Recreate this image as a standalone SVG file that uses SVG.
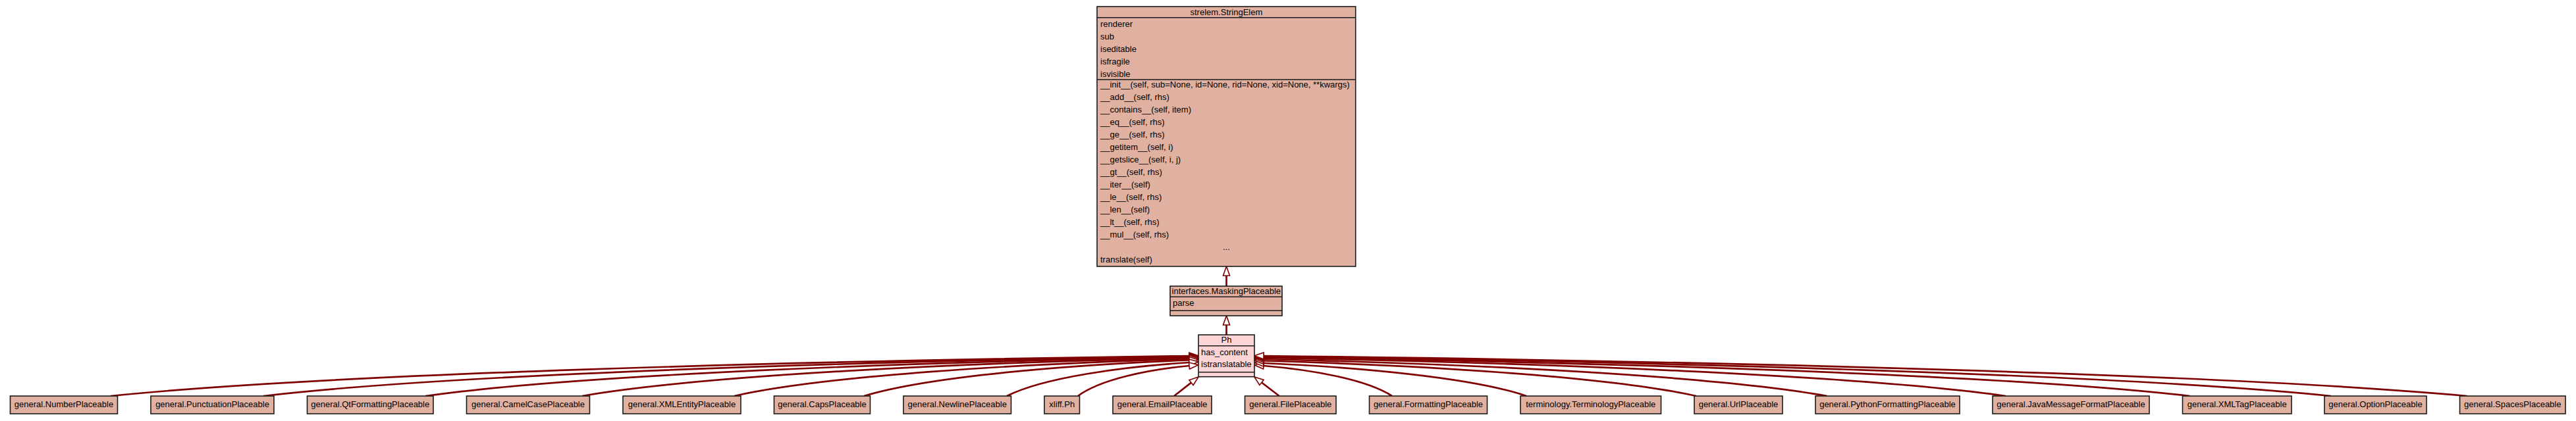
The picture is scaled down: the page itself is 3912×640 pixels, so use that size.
<svg xmlns="http://www.w3.org/2000/svg" width="3912" height="640" viewBox="0 0 3912 640">
<defs>
<style>
text{font-family:"Liberation Sans",Arial,Helvetica,sans-serif;font-size:13px;fill:#000}
.c{text-anchor:middle}
.box{fill:#e0b0a0;stroke:#1a1a1a;stroke-width:1.6}
.ph{fill:#ffd4d4;stroke:#1a1a1a;stroke-width:1.6}
.sep{stroke:#1a1a1a;stroke-width:1.6}
.e{fill:none;stroke:#800000;stroke-width:2.7;marker-end:url(#tri)}
</style>
<marker id="tri" markerUnits="userSpaceOnUse" markerWidth="16" markerHeight="12" refX="0" refY="5" orient="auto" overflow="visible">
<path d="M0,0 L14,5 L0,10 Z" fill="#fff" stroke="#800000" stroke-width="1.6"/>
</marker>
</defs>
<rect width="3912" height="640" fill="#fff"/>

<g id="edges">
<path class="e" d="M1862.5,435 L1862.5,419"/>
<path class="e" d="M1862.5,509 L1862.5,494"/>
<path class="e" d="M168,602 C495.6,568.45 1199.9,548.93 1806,541"/>
<path class="e" d="M400,602 C681.2,569 1285.8,549.8 1806,542"/>
<path class="e" d="M646,602 C878,569.55 1376.8,550.67 1806,543"/>
<path class="e" d="M884,602 C1068.4,570.1 1464.9,551.54 1806,544"/>
<path class="e" d="M1115,602 C1253.2,570.9 1550.3,552.85 1806,545.5"/>
<path class="e" d="M1312,602 C1410.8,572 1623.2,554.6 1806,547.5"/>
<path class="e" d="M1529,602 C1584.4,573.95 1703.5,557.6 1806,551"/>
<path class="e" d="M1637,602 C1670.8,576.7 1743.5,562 1806,556"/>
<path class="e" d="M1783,602 L1809,581.6"/>
<path class="e" d="M1942.7,602 L1916,581.5"/>
<path class="e" d="M2114,602 C2075,576.7 1991.15,562 1919,556"/>
<path class="e" d="M2318,602 C2238.2,574.5 2066.6,558.5 1919,552"/>
<path class="e" d="M2576,602 C2444.6,572.6 2162.1,555.46 1919,548.5"/>
<path class="e" d="M2774.7,602 C2603.6,571.2 2235.6,553.28 1919,546"/>
<path class="e" d="M3046,602 C2820.6,570.1 2336,551.54 1919,544"/>
<path class="e" d="M3325.7,602 C3044.4,569.55 2439.5,550.67 1919,543"/>
<path class="e" d="M3540,602 C3215.8,569 2518.8,549.8 1919,542"/>
<path class="e" d="M3746.5,602 C3381,568.45 2595.2,548.93 1919,541"/>
</g>

<g id="strelem.StringElem">
<rect class="box" x="1666" y="10" width="392.7" height="395"/>
<line class="sep" x1="1666" y1="26.7" x2="2058.7" y2="26.7"/>
<line class="sep" x1="1666" y1="121" x2="2058.7" y2="121"/>
<text class="c" x="1862.4" y="23">strelem.StringElem</text>
<text x="1671" y="40.5">renderer</text>
<text x="1671" y="59.5">sub</text>
<text x="1671" y="78.5">iseditable</text>
<text x="1671" y="97.5">isfragile</text>
<text x="1671" y="116.5">isvisible</text>
<text x="1671" y="133.2">__init__(self, sub=None, id=None, rid=None, xid=None, **kwargs)</text>
<text x="1671" y="152.2">__add__(self, rhs)</text>
<text x="1671" y="171.2">__contains__(self, item)</text>
<text x="1671" y="190.2">__eq__(self, rhs)</text>
<text x="1671" y="209.2">__ge__(self, rhs)</text>
<text x="1671" y="228.2">__getitem__(self, i)</text>
<text x="1671" y="247.2">__getslice__(self, i, j)</text>
<text x="1671" y="266.2">__gt__(self, rhs)</text>
<text x="1671" y="285.2">__iter__(self)</text>
<text x="1671" y="304.2">__le__(self, rhs)</text>
<text x="1671" y="323.2">__len__(self)</text>
<text x="1671" y="342.2">__lt__(self, rhs)</text>
<text x="1671" y="361.2">__mul__(self, rhs)</text>
<text class="c" x="1862.4" y="379.5">...</text>
<text x="1671" y="398.7">translate(self)</text>
</g>

<g id="interfaces.MaskingPlaceable">
<rect class="box" x="1777" y="435" width="170" height="45"/>
<line class="sep" x1="1777" y1="451.3" x2="1947" y2="451.3"/>
<line class="sep" x1="1777" y1="472.3" x2="1947" y2="472.3"/>
<text class="c" x="1862.3" y="446.5">interfaces.MaskingPlaceable</text>
<text x="1781" y="464.5">parse</text>
</g>

<g id="Ph">
<rect class="ph" x="1820" y="509" width="85" height="63.7"/>
<line class="sep" x1="1820" y1="525.7" x2="1905" y2="525.7"/>
<line class="sep" x1="1820" y1="565.7" x2="1905" y2="565.7"/>
<text class="c" x="1862.5" y="520.5">Ph</text>
<text x="1824" y="539.5">has_content</text>
<text x="1824" y="557.8">istranslatable</text>
</g>

<g id="general.NumberPlaceable"><rect class="box" x="15.5" y="602" width="163" height="27"/><text class="c" x="97" y="619">general.NumberPlaceable</text></g>
<g id="general.PunctuationPlaceable"><rect class="box" x="229" y="602" width="187" height="27"/><text class="c" x="322.5" y="619">general.PunctuationPlaceable</text></g>
<g id="general.QtFormattingPlaceable"><rect class="box" x="466.5" y="602" width="191.5" height="27"/><text class="c" x="562.25" y="619">general.QtFormattingPlaceable</text></g>
<g id="general.CamelCasePlaceable"><rect class="box" x="708.5" y="602" width="187" height="27"/><text class="c" x="802" y="619">general.CamelCasePlaceable</text></g>
<g id="general.XMLEntityPlaceable"><rect class="box" x="946" y="602" width="179" height="27"/><text class="c" x="1035.5" y="619">general.XMLEntityPlaceable</text></g>
<g id="general.CapsPlaceable"><rect class="box" x="1175.5" y="602" width="146" height="27"/><text class="c" x="1248.5" y="619">general.CapsPlaceable</text></g>
<g id="general.NewlinePlaceable"><rect class="box" x="1372" y="602" width="163.5" height="27"/><text class="c" x="1453.75" y="619">general.NewlinePlaceable</text></g>
<g id="xliff.Ph"><rect class="box" x="1586" y="602" width="53.5" height="27"/><text class="c" x="1612.75" y="619">xliff.Ph</text></g>
<g id="general.EmailPlaceable"><rect class="box" x="1690" y="602" width="150" height="27"/><text class="c" x="1765" y="619">general.EmailPlaceable</text></g>
<g id="general.FilePlaceable"><rect class="box" x="1890.5" y="602" width="138.5" height="27"/><text class="c" x="1959.75" y="619">general.FilePlaceable</text></g>
<g id="general.FormattingPlaceable"><rect class="box" x="2079.5" y="602" width="179" height="27"/><text class="c" x="2169" y="619">general.FormattingPlaceable</text></g>
<g id="terminology.TerminologyPlaceable"><rect class="box" x="2309" y="602" width="213.5" height="27"/><text class="c" x="2415.75" y="619">terminology.TerminologyPlaceable</text></g>
<g id="general.UrlPlaceable"><rect class="box" x="2573" y="602" width="134" height="27"/><text class="c" x="2640" y="619">general.UrlPlaceable</text></g>
<g id="general.PythonFormattingPlaceable"><rect class="box" x="2757" y="602" width="219" height="27"/><text class="c" x="2866.5" y="619">general.PythonFormattingPlaceable</text></g>
<g id="general.JavaMessageFormatPlaceable"><rect class="box" x="3026" y="602" width="238" height="27"/><text class="c" x="3145" y="619">general.JavaMessageFormatPlaceable</text></g>
<g id="general.XMLTagPlaceable"><rect class="box" x="3314.5" y="602" width="165.5" height="27"/><text class="c" x="3397.25" y="619">general.XMLTagPlaceable</text></g>
<g id="general.OptionPlaceable"><rect class="box" x="3530" y="602" width="155" height="27"/><text class="c" x="3607.5" y="619">general.OptionPlaceable</text></g>
<g id="general.SpacesPlaceable"><rect class="box" x="3735.5" y="602" width="160.5" height="27"/><text class="c" x="3815.75" y="619">general.SpacesPlaceable</text></g>
</svg>
